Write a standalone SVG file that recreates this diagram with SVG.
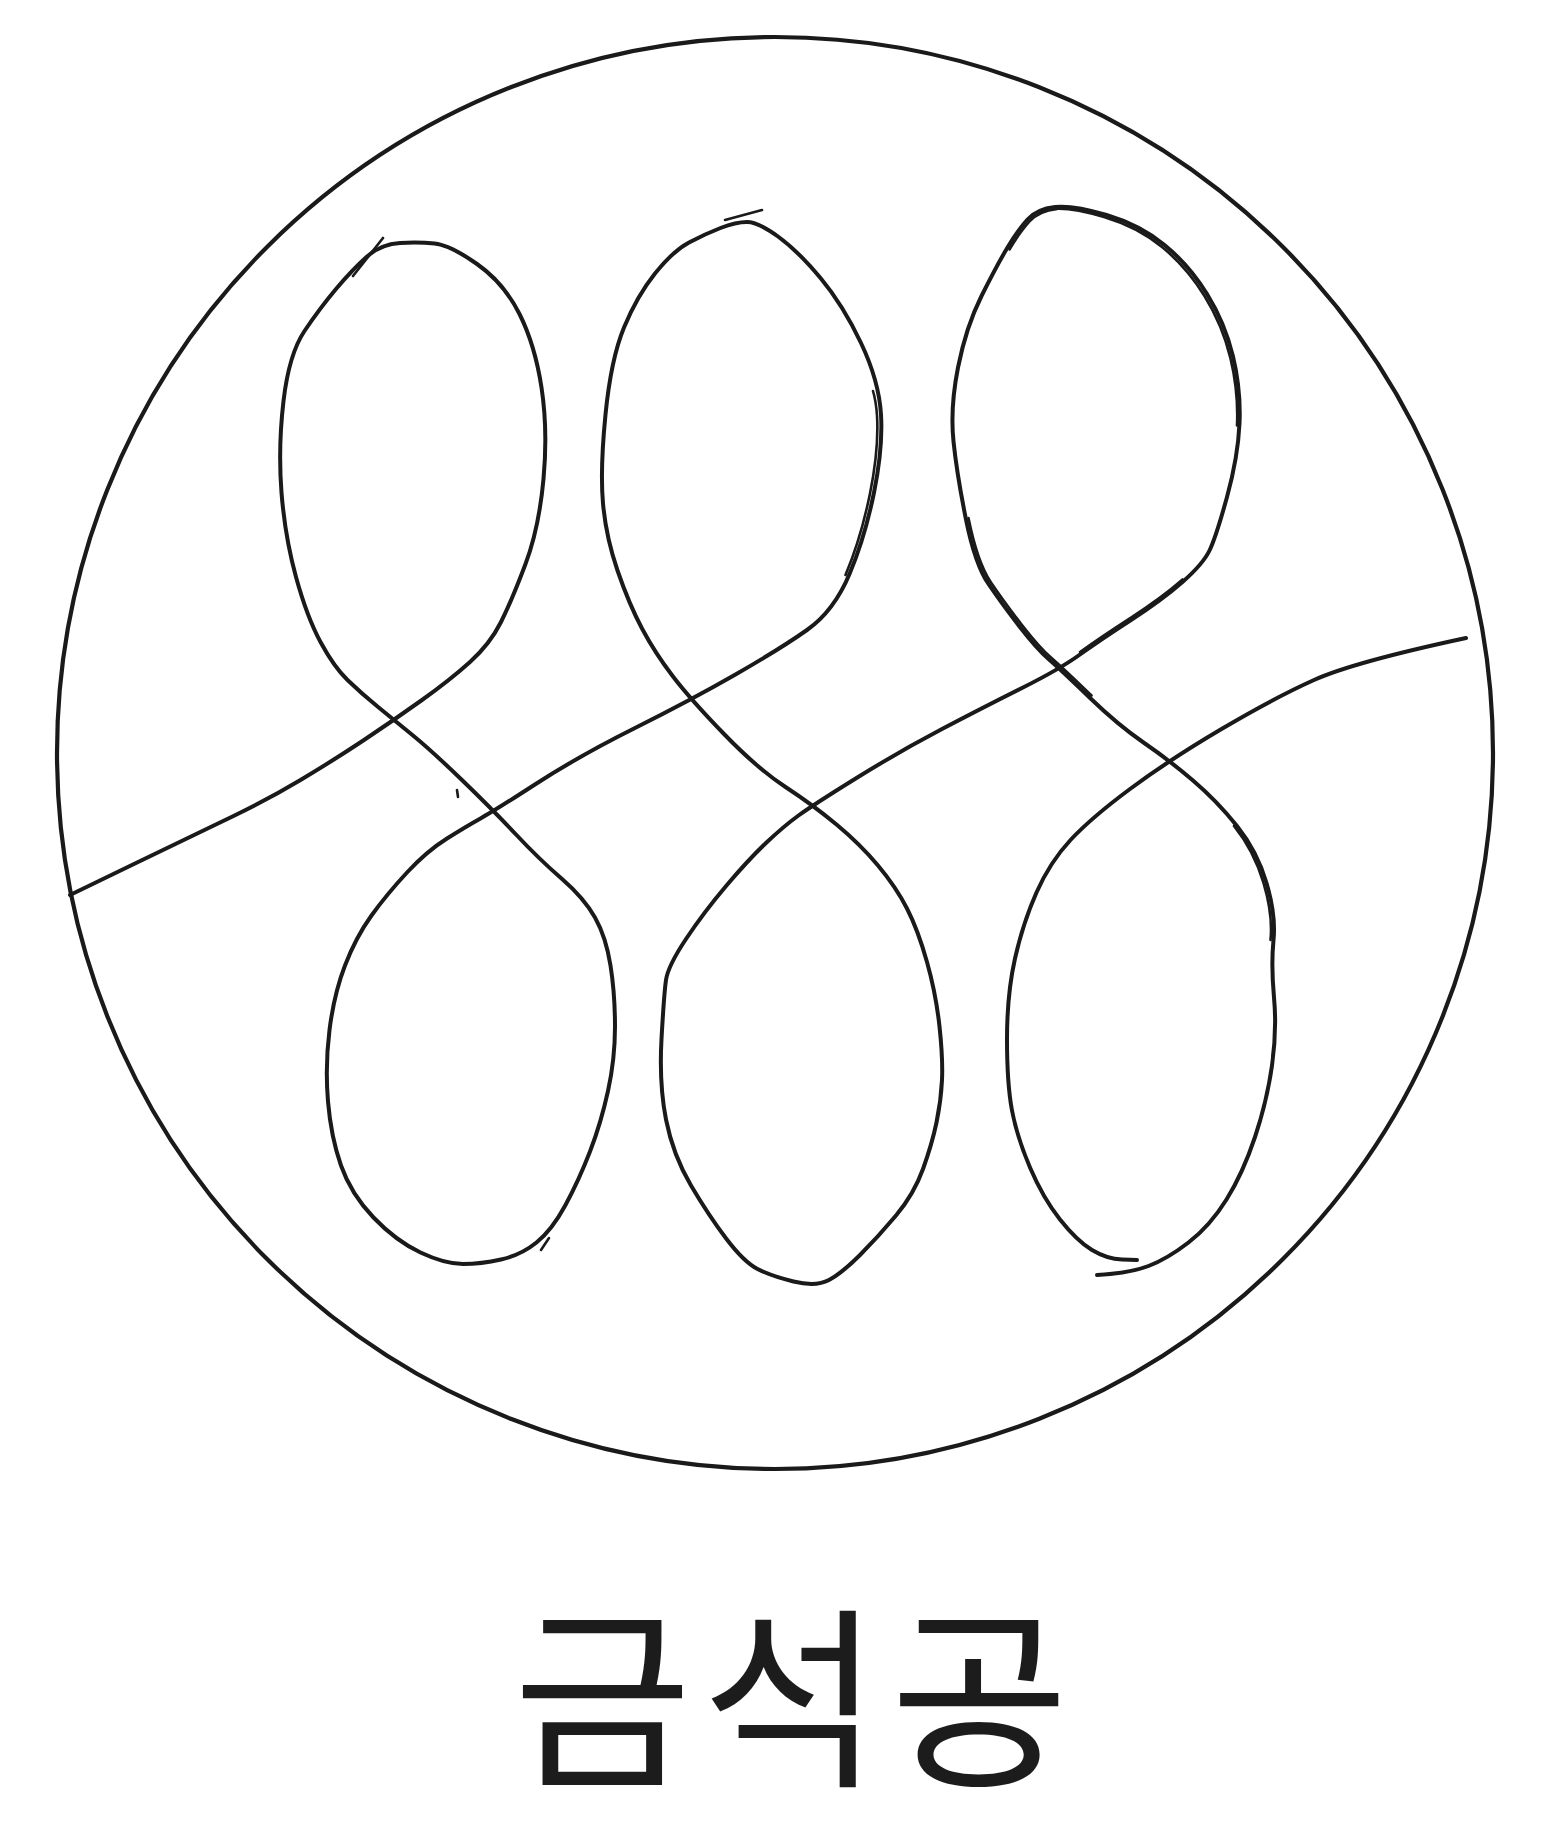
<svg xmlns="http://www.w3.org/2000/svg" width="1544" height="1836" viewBox="0 0 1544 1836">
<style>
.ln{fill:none;stroke:#1a1a1a;stroke-width:4;stroke-linecap:round;stroke-linejoin:round}
.th{fill:none;stroke:#1a1a1a;stroke-width:2.6;stroke-linecap:round;stroke-linejoin:round}
.lbl{font-family:"Noto Sans CJK KR","Noto Sans",sans-serif;font-size:194px;letter-spacing:10px;fill:#1c1c1c}
</style>
<rect width="1544" height="1836" fill="#ffffff"/>
<g id="circle">
<ellipse class="ln" cx="775" cy="753" rx="718" ry="716" style="stroke-width:4.2"/>
</g>
<g id="knot">
<path class="ln" d="M70,895 L135,863.5 Q200,832 233.5,816 Q267,800 300.5,780 Q334,760 364,740 Q394,720 422,700 Q450,680 470,662 Q490,644 501,622 Q512,600 525.5,564 Q539,528 543.5,479 Q548,430 541.5,387.5 Q535,345 519.5,314 Q504,283 477,264 Q450,245 434.5,243.5 Q419,242 400,243 Q381,244 366.5,257 Q352,270 336,289 Q320,308 304.5,331 Q289,354 283.5,401 Q278,448 281.5,492.5 Q285,537 296,577 Q307,617 320.5,642 Q334,667 347.5,680 Q361,693 377.5,706.5 Q394,720 413,735.5 Q432,751 463,781 Q494,811 516.5,835 Q539,859 561.5,878.5 Q584,898 595,917.5 Q606,937 610.5,965.5 Q615,994 615,1026.5 Q615,1059 608,1091 Q601,1123 590,1151.5 Q579,1180 565.5,1205 Q552,1230 536.5,1242.5 Q521,1255 501,1259.5 Q481,1264 463,1264 Q445,1264 420.5,1252.5 Q396,1241 373.5,1217.5 Q351,1194 341,1165.5 Q331,1137 328,1101.5 Q325,1066 329.5,1030 Q334,994 345,965.5 Q356,937 371.5,915.5 Q387,894 407,872.5 Q427,851 447,838.5 Q467,826 480.5,818.5 Q494,811 536.5,783.5 Q579,756 635,728 Q691,700 735.5,674.5 Q780,649 807,630 Q834,611 849.5,574 Q865,537 874,492.5 Q883,448 881,414.5 Q879,381 861,343 Q843,305 820.5,278 Q798,251 778,236.5 Q758,222 747,222 Q736,222 720.5,228 Q705,234 689,242.5 Q673,251 655,273.5 Q637,296 624,327.5 Q611,359 605.5,414.5 Q600,470 603,503.5 Q606,537 617.5,570.5 Q629,604 642,628.5 Q655,653 673,676.5 Q691,700 724.5,734.5 Q758,769 785.5,787 Q813,805 836.5,824.5 Q860,844 878,865.5 Q896,887 907,908.5 Q918,930 927,962 Q936,994 939.5,1026.5 Q943,1059 942,1080 Q941,1101 936.5,1122.5 Q932,1144 923,1169 Q914,1194 896,1215.5 Q878,1237 860,1255 Q842,1273 829,1280 Q816,1287 793.5,1281.5 Q771,1276 757.5,1269 Q744,1262 726.5,1239 Q709,1216 691,1185.5 Q673,1155 666,1119.5 Q659,1084 661.5,1039 Q664,994 666,980 Q668,966 686,939 Q704,912 726.5,885.5 Q749,859 766.5,842.5 Q784,826 798.5,815.5 Q813,805 856.5,778 Q900,751 942,729 Q984,707 1022,688 Q1060,669 1080,654.5 Q1100,640 1131,620 Q1162,600 1182.5,582 Q1203,564 1209.5,550.5 Q1216,537 1227,497 Q1238,457 1239.5,423.5 Q1241,390 1233,356.5 Q1225,323 1207,294 Q1189,265 1164.5,245 Q1140,225 1106.5,215 Q1073,205 1055,207 Q1037,209 1027.5,219.5 Q1018,230 1007.5,247.5 Q997,265 981.5,296 Q966,327 958,367.5 Q950,408 953.5,441.5 Q957,475 966,519.5 Q975,564 988.5,584 Q1002,604 1019.5,626.5 Q1037,649 1048.5,659 Q1060,669 1089,697 Q1118,725 1143.5,742.5 Q1169,760 1193,780.5 Q1217,801 1237,826 Q1257,851 1266.5,883 Q1276,915 1273.5,940 Q1271,965 1274,997.5 Q1277,1030 1272,1065.5 Q1267,1101 1255,1137 Q1243,1173 1226.5,1199.5 Q1210,1226 1188.5,1242.5 Q1167,1259 1148.5,1266 Q1130,1273 1097,1275"/>
<path class="ln" d="M1137,1260 L1122,1259.5 Q1107,1259 1092,1250 Q1077,1241 1060,1219.5 Q1043,1198 1030,1167.5 Q1017,1137 1012,1110.5 Q1007,1084 1007,1039 Q1007,994 1015,958.5 Q1023,923 1036.5,892.5 Q1050,862 1070.5,840 Q1091,818 1130,789 Q1169,760 1221.5,729 Q1274,698 1314,680 Q1354,662 1466,638"/>
<path class="th" transform="translate(-4,1)" d="M849.5,574 Q865,537 874,492.5 Q883,448 881,414.5 Q880,400 877,390"/>
<path class="th" transform="translate(-2.5,2)" d="M1055,207 Q1073,205 1106.5,215 Q1140,225 1164.5,245 Q1189,265 1207,294 Q1225,323 1233,356.5 Q1241,390 1239.5,423.5"/>
<path class="th" transform="translate(2,2)" d="M1007.5,247.5 Q1018,230 1027.5,219.5 Q1037,209 1055,207"/>
<path class="th" transform="translate(2.5,-1.5)" d="M966,519.5 Q975,564 988.5,584 Q1002,604 1019.5,626.5 Q1037,649 1048.5,659 Q1060,669 1089,697"/>
<path class="th" transform="translate(0,-2.5)" d="M1080,654.5 Q1100,640 1131,620 Q1162,600 1182.5,582"/>
<path class="th" transform="translate(-3,0)" d="M1237,826 Q1257,851 1266.5,883 Q1276,915 1273.5,940"/>
<path class="th" d="M353,276 L383,238"/>
<path class="th" d="M725,220 L762,210"/>
<path class="th" d="M541,1250 L549,1238"/>
<path class="th" d="M457,790 L458,797"/>
</g>
<g id="label">
<text class="lbl" x="796" y="1772" text-anchor="middle">금석공</text>
</g>
</svg>
